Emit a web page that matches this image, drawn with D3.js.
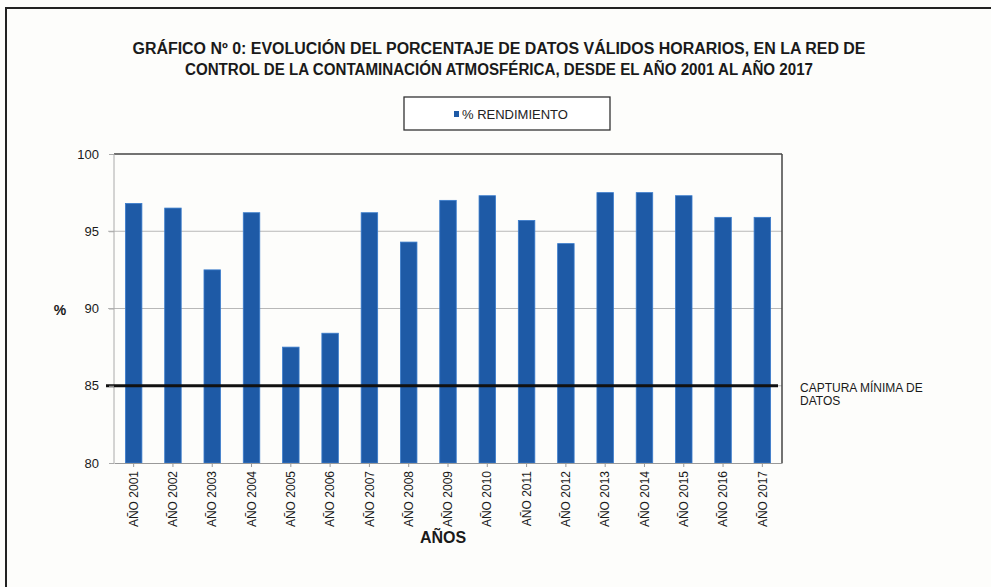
<!DOCTYPE html>
<html>
<head>
<meta charset="utf-8">
<script src="https://cdn.jsdelivr.net/npm/d3@7"></script>
<style>
  body { margin: 0; background: #fdfdfb; }
  svg { display: block; font-family: "Liberation Sans", Arial, sans-serif; }
  .title { font-weight: bold; font-size: 16px; fill: #1a1a1a; }
  .axis text { font-size: 13px; fill: #1a1a1a; }
  .x-axis text { font-size: 12px; }
</style>
</head>
<body>
<svg id="chart" width="991" height="587"></svg>
<script>
// data
const years = ['AÑO 2001', 'AÑO 2002', 'AÑO 2003', 'AÑO 2004', 'AÑO 2005', 'AÑO 2006', 'AÑO 2007', 'AÑO 2008', 'AÑO 2009',
               'AÑO 2010', 'AÑO 2011', 'AÑO 2012', 'AÑO 2013', 'AÑO 2014', 'AÑO 2015', 'AÑO 2016', 'AÑO 2017'];
const rendimiento = [96.8, 96.5, 92.5, 96.2, 87.5, 88.4, 96.2, 94.3, 97.0, 97.3, 95.7, 94.2, 97.5, 97.5, 97.3, 95.9, 95.9];
const yTicks = [80, 85, 90, 95, 100];
const minimo = 85;
const titleLines = ['GRÁFICO Nº 0: EVOLUCIÓN DEL PORCENTAJE DE DATOS VÁLIDOS HORARIOS, EN LA RED DE',
                    'CONTROL DE LA CONTAMINACIÓN  ATMOSFÉRICA, DESDE EL AÑO 2001 AL AÑO 2017'];
const titleWidths = [733, 628];

const svg = d3.select('#chart');
const margin = { top: 154, left: 114, right: 209, bottom: 124 };
const width = 991 - margin.left - margin.right;
const height = 587 - margin.top - margin.bottom;
const barColor = '#1e5aa6';

// outer frame
svg.append('path')
    .attr('d', 'M6,587 V8 H991')
    .attr('fill', 'none')
    .attr('stroke', '#222')
    .attr('stroke-width', 2);

// title (narrow bold face squeezed to the widths seen in the picture)
svg.append('text')
    .attr('class', 'title')
    .attr('text-anchor', 'middle')
    .selectAll('tspan')
    .data(titleLines)
    .join('tspan')
        .attr('x', 499)
        .attr('y', (d, i) => 54 + i * 21)
        .attr('textLength', (d, i) => titleWidths[i])
        .attr('lengthAdjust', 'spacingAndGlyphs')
        .text(d => d);

// legend
const legend = svg.append('g').attr('transform', 'translate(404,97)');
legend.append('rect')
    .attr('width', 206).attr('height', 33)
    .attr('fill', '#fff').attr('stroke', '#333').attr('stroke-width', 1.3);
legend.append('rect')
    .attr('x', 50).attr('y', 14).attr('width', 5).attr('height', 6)
    .attr('fill', barColor);
legend.append('text')
    .attr('x', 58).attr('y', 22)
    .attr('font-size', 13)
    .attr('fill', '#222')
    .text('% RENDIMIENTO');

const chart = svg.append('g')
    .attr('transform', `translate(${margin.left},${margin.top})`);

const xScale = d3.scaleBand()
    .domain(years)
    .range([0, width])
    .paddingInner(0.58)
    .paddingOuter(0.29);

const yScale = d3.scaleLinear()
    .domain([80, 100])
    .range([height, 0]);

// gridlines
chart.append('g')
    .selectAll('line')
    .data(yTicks.filter(d => d > 80 && d < 100))
    .join('line')
        .attr('x1', -6).attr('x2', width)
        .attr('y1', d => yScale(d)).attr('y2', d => yScale(d))
        .attr('stroke', '#b8b8b8').attr('stroke-width', 1);

// plot frame
chart.append('line').attr('x1', 0).attr('x2', width).attr('y1', 0).attr('y2', 0)
    .attr('stroke', '#444').attr('stroke-width', 1.5);
chart.append('line').attr('x1', width).attr('x2', width).attr('y1', 0).attr('y2', height)
    .attr('stroke', '#444').attr('stroke-width', 1.5);
chart.append('line').attr('x1', 0).attr('x2', 0).attr('y1', 0).attr('y2', height)
    .attr('stroke', '#aaa').attr('stroke-width', 1);

// bars
chart.selectAll('.bar')
    .data(rendimiento)
    .join('rect')
        .attr('class', 'bar')
        .attr('x', (d, i) => xScale(years[i]))
        .attr('width', xScale.bandwidth())
        .attr('y', d => yScale(d))
        .attr('height', d => height - yScale(d))
        .attr('fill', barColor)
        .attr('stroke', '#3a7ccc')
        .attr('stroke-width', 0.8);

// minimum capture line
chart.append('line')
    .attr('x1', -8).attr('x2', width - 4)
    .attr('y1', yScale(minimo)).attr('y2', yScale(minimo))
    .attr('stroke', '#111').attr('stroke-width', 3);

// axes
const yAxis = d3.axisLeft(yScale).tickValues(yTicks).tickSize(5).tickPadding(10);
const yAxisGroup = chart.append('g').attr('class', 'axis y-axis').call(yAxis);
yAxisGroup.select('.domain').remove();
yAxisGroup.selectAll('.tick line').attr('stroke', '#aaa');

const xAxis = d3.axisBottom(xScale).tickSize(4).tickSizeOuter(0);
const xAxisGroup = chart.append('g')
    .attr('class', 'axis x-axis')
    .attr('transform', `translate(0,${height})`)
    .call(xAxis);
xAxisGroup.select('.domain').attr('stroke', '#999');
xAxisGroup.selectAll('.tick line').attr('stroke', '#999');
xAxisGroup.selectAll('.tick text')
    .attr('text-anchor', 'end')
    .attr('transform', 'rotate(-90)')
    .attr('x', -8)
    .attr('y', 0)
    .attr('dy', '0.35em');

// axis titles
svg.append('text')
    .attr('x', 60).attr('y', 315)
    .attr('text-anchor', 'middle')
    .attr('font-size', 14).attr('font-weight', 'bold')
    .attr('fill', '#1a1a1a')
    .text('%');

svg.append('text')
    .attr('x', 443).attr('y', 543)
    .attr('text-anchor', 'middle')
    .attr('font-size', 16).attr('font-weight', 'bold')
    .attr('fill', '#1a1a1a')
    .text('AÑOS');

// label of the minimum line
svg.append('text')
    .attr('font-size', 12).attr('fill', '#1a1a1a')
    .selectAll('tspan')
    .data(['CAPTURA MÍNIMA DE', 'DATOS'])
    .join('tspan')
        .attr('x', 800)
        .attr('y', (d, i) => 392 + i * 13)
        .text(d => d);
</script>
</body>
</html>
